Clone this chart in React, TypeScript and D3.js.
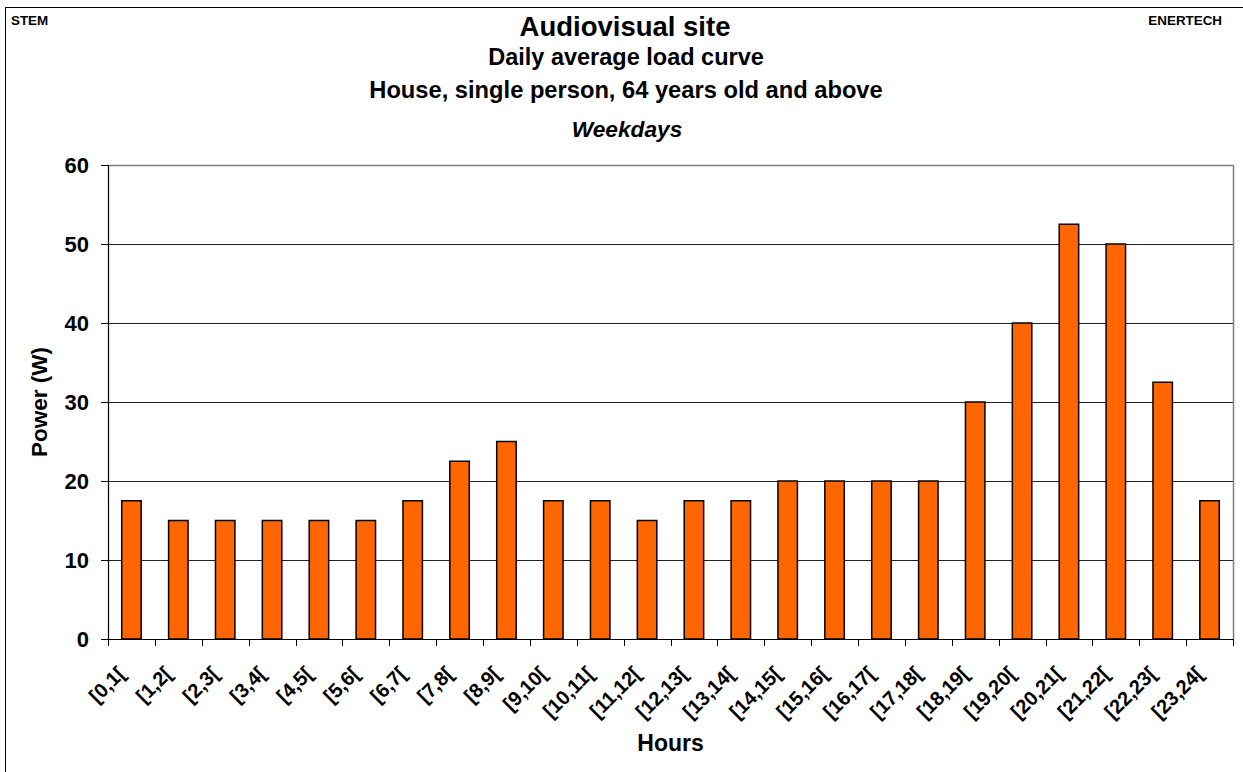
import React from "react";
import * as d3 from "d3";

const categories: string[] = [
  "[0,1[", "[1,2[", "[2,3[", "[3,4[", "[4,5[", "[5,6[", "[6,7[", "[7,8[",
  "[8,9[", "[9,10[", "[10,11[", "[11,12[", "[12,13[", "[13,14[", "[14,15[",
  "[15,16[", "[16,17[", "[17,18[", "[18,19[", "[19,20[", "[20,21[", "[21,22[",
  "[22,23[", "[23,24[",
];
const powerValues: number[] = [
  17.5, 15, 15, 15, 15, 15, 17.5, 22.5, 25, 17.5, 17.5, 15, 17.5, 17.5, 20,
  20, 20, 20, 30, 40, 52.5, 50, 32.5, 17.5,
];
const yTicks: number[] = [0, 10, 20, 30, 40, 50, 60];
const titleLines: string[] = [
  "Audiovisual site",
  "Daily average load curve",
  "House, single person, 64 years old and above",
  "Weekdays",
];

const W = 1243;
const H = 772;
const plot = { left: 108, right: 1233, top: 165, bottom: 639 };
const FONT = "'Liberation Sans', Arial, Helvetica, sans-serif";

export default function App() {
  const x = d3
    .scaleBand<string>()
    .domain(categories)
    .range([plot.left, plot.right])
    .padding(0);
  const y = d3.scaleLinear().domain([0, 60]).range([plot.bottom, plot.top]);
  const step = x.step();
  const barW = step * 0.415;
  const boundaries = d3.range(categories.length + 1).map((i) => plot.left + i * step);

  return (
    <svg
      width={W}
      height={H}
      style={{ position: "absolute", left: 0, top: 0, display: "block", background: "#fff" }}
      fontFamily={FONT}
    >
      {/* outer frame */}
      <rect x={5.5} y={7.5} width={W + 10} height={H + 10} fill="none" stroke="#000" strokeWidth={1} />
      <text x={11} y={25} fontSize={13.4} fontWeight="bold">STEM</text>
      <text x={1222} y={25} fontSize={13.4} fontWeight="bold" textAnchor="end">ENERTECH</text>

      {/* titles */}
      <text x={625} y={36} fontSize={27.5} fontWeight="bold" textAnchor="middle">{titleLines[0]}</text>
      <text x={626} y={65} fontSize={23.5} fontWeight="bold" textAnchor="middle">{titleLines[1]}</text>
      <text x={626} y={98} fontSize={23.7} fontWeight="bold" textAnchor="middle">{titleLines[2]}</text>
      <text x={627} y={137} fontSize={22.7} fontWeight="bold" fontStyle="italic" textAnchor="middle">{titleLines[3]}</text>

      {/* gridlines */}
      {yTicks.filter((t) => t > 0 && t < 60).map((t) => (
        <line key={"g" + t} x1={plot.left} x2={plot.right} y1={Math.round(y(t)) + 0.5} y2={Math.round(y(t)) + 0.5} stroke="#222" strokeWidth={1} />
      ))}
      {/* plot border top/right */}
      <line x1={plot.left} x2={plot.right} y1={plot.top + 0.5} y2={plot.top + 0.5} stroke="#808080" strokeWidth={1.5} />
      <line x1={plot.right + 0.5} x2={plot.right + 0.5} y1={plot.top} y2={plot.bottom} stroke="#808080" strokeWidth={1.5} />

      {/* bars */}
      {categories.map((c, i) => {
        const cx = (x(c) as number) + step / 2;
        return (
          <rect
            key={c}
            x={cx - barW / 2}
            y={y(powerValues[i])}
            width={barW}
            height={y(0) - y(powerValues[i])}
            fill="#FF6600"
            stroke="#000"
            strokeWidth={1.5}
          />
        );
      })}

      {/* axes */}
      <line x1={plot.left + 0.5} x2={plot.left + 0.5} y1={plot.top} y2={plot.bottom} stroke="#000" strokeWidth={1.2} />
      <line x1={plot.left} x2={plot.right} y1={plot.bottom + 0.5} y2={plot.bottom + 0.5} stroke="#000" strokeWidth={1.2} />
      {yTicks.map((t) => (
        <g key={"y" + t}>
          <line x1={plot.left - 7} x2={plot.left} y1={Math.round(y(t)) + 0.5} y2={Math.round(y(t)) + 0.5} stroke="#000" strokeWidth={1} />
          <text x={89} y={y(t) + 8} fontSize={22} fontWeight="bold" textAnchor="end">{t}</text>
        </g>
      ))}
      {boundaries.map((bx, i) => (
        <line key={"xt" + i} x1={Math.round(bx) + 0.5} x2={Math.round(bx) + 0.5} y1={plot.bottom} y2={plot.bottom + 7} stroke="#000" strokeWidth={1} />
      ))}
      {categories.map((c) => {
        const cx = (x(c) as number) + step / 2;
        return (
          <text
            key={"l" + c}
            transform={`translate(${cx - 5},${675}) rotate(-45)`}
            fontSize={20}
            fontWeight="bold"
            textAnchor="end"
          >
            {c}
          </text>
        );
      })}

      {/* axis titles */}
      <text x={(plot.left + plot.right) / 2} y={751} fontSize={23} fontWeight="bold" textAnchor="middle">Hours</text>
      <text
        transform={`translate(46.5,${(plot.top + plot.bottom) / 2}) rotate(-90)`}
        fontSize={22.5}
        fontWeight="bold"
        textAnchor="middle"
      >
        Power (W)
      </text>
    </svg>
  );
}
